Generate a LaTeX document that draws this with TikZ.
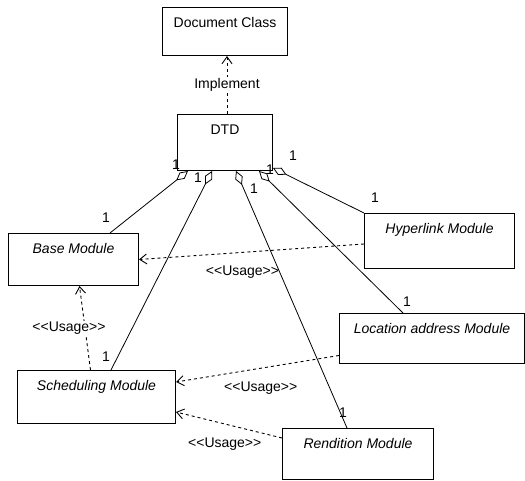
\documentclass[tikz,border=0pt]{standalone}
\usepackage{fontspec}
\setmainfont{Liberation Sans}
\usetikzlibrary{arrows.meta}

\tikzstyle{block} = [rectangle, draw=black, line width=1pt, anchor=north west, text height=10pt, inner ysep=10pt, inner xsep=4pt, text centered]
\tikzstyle{module} = [block, font=\fontsize{14}{16}\selectfont\itshape]
\tikzstyle{aggr} = [{Diamond[open,length=15pt,width=8pt]}-, line width=0.8pt]
\tikzstyle{usage} = [-{Straight Barb[length=7pt,width=10pt]}, line width=0.9pt, dash pattern=on 3pt off 3pt]
\tikzstyle{mult} = [inner sep=0pt]
\tikzstyle{stereo} = [inner sep=1pt]

\begin{document}
\begin{tikzpicture}[x=1pt, y=-1pt, font=\fontsize{14}{16}\selectfont]
\useasboundingbox (0,0) rectangle (525,481);

\node (doc) [block, minimum width=125pt, text depth=18pt] at (162,7) {Document Class};
\node (dtd) [block, minimum width=95pt, text depth=26pt] at (177,114) {DTD};
\node (base) [module, minimum width=130pt, text depth=22pt] at (8,233) {Base Module};
\node (hyper) [module, minimum width=150pt, text depth=25pt] at (364,213) {Hyperlink Module};
\node (loc) [module, minimum width=185pt, text depth=20pt] at (339,313) {Location address Module};
\node (sched) [module, minimum width=158pt, text depth=23pt] at (17,370) {Scheduling Module};
\node (rend) [module, minimum width=151pt, text depth=21pt] at (282,428) {Rendition Module};

\draw [usage] ([xshift=2pt]dtd.north) -- node [fill=white, inner sep=1pt] {Implement} ([xshift=2pt]doc.south);

\draw [aggr] ([xshift=11pt]dtd.south west) -- node [mult, pos=0, xshift=-12pt, yshift=6pt] {1} node [mult, pos=1, xshift=-4pt, yshift=15pt] {1} ([xshift=102pt]base.north west);
\draw [aggr] ([xshift=35pt]dtd.south west) -- node [mult, pos=0, xshift=-14pt, yshift=-7pt] {1} node [mult, pos=1, xshift=-5pt, yshift=13pt] {1} ([xshift=94pt]sched.north west);
\draw [aggr] ([xshift=59pt]dtd.south west) -- node [mult, pos=0, xshift=18pt, yshift=-18pt] {1} node [mult, pos=1, xshift=-4pt, yshift=15pt] {1} ([xshift=65pt]rend.north west);
\draw [aggr] ([xshift=-14pt]dtd.south east) -- node [mult, pos=0, xshift=11pt, yshift=1pt] {1} node [mult, pos=1, xshift=4pt, yshift=11pt] {1} ([xshift=64pt]loc.north west);
\draw [aggr] ([yshift=3pt]dtd.south east) -- node [mult, pos=0, xshift=20pt, yshift=12pt] {1} node [mult, pos=1, xshift=11pt, yshift=15pt] {1} (hyper.north west);

\draw [usage] ([yshift=-3pt]hyper.west) -- node [stereo, pos=0.54, below=12pt] {<\kern0pt<Usage>\kern0pt>} (base.east);
\draw [usage] ([xshift=-6pt]sched.north) -- node [stereo, fill=white, xshift=-16pt] {<\kern0pt<Usage>\kern0pt>} ([xshift=6pt]base.south);
\draw [usage] ([yshift=-17pt]loc.west) -- node [stereo, pos=0.48, below=12pt] {<\kern0pt<Usage>\kern0pt>} ([yshift=15pt]sched.east);
\draw [usage] ([yshift=16pt]rend.west) -- node [stereo, pos=0.54, below=12pt] {<\kern0pt<Usage>\kern0pt>} ([yshift=-15pt]sched.east);
\end{tikzpicture}
\end{document}
